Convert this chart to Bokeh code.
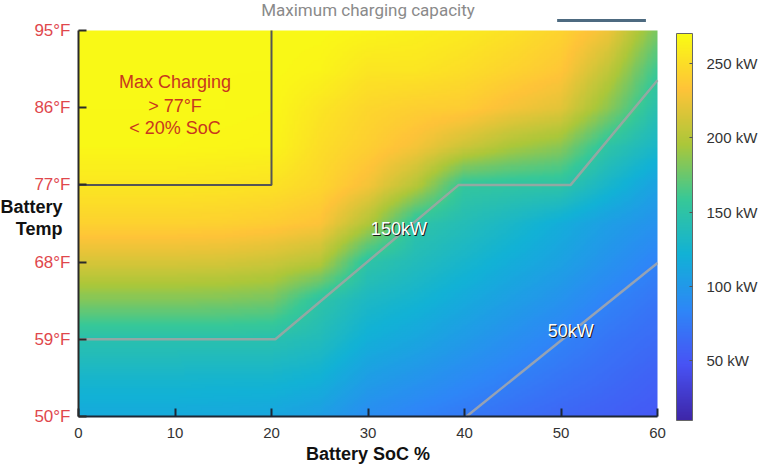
import numpy as np
from bokeh.plotting import figure
from bokeh.models import (LinearColorMapper, ColorBar, Range1d, FixedTicker, Label,
                          PrintfTickFormatter)
from bokeh.embed import file_html
from bokeh.resources import INLINE

# ---------------- data ----------------
soc_pct = [0, 5, 10, 15, 20, 25, 30, 35, 40, 45, 50, 55, 60]
temp_f = [50, 54.5, 59, 63.5, 68, 72.5, 77, 81.5, 86, 90.5, 95]
# charging power (kW), one row per temperature (bottom -> top), one column per SoC
power_kw = [
    [115, 115, 115, 114, 112, 105,  90,  82,  75,  68,  62,  57,  52],
    [128, 128, 128, 127, 127, 122, 105,  97,  88,  80,  72,  65,  58],
    [146, 146, 146, 146, 145, 138, 120, 112, 102,  92,  82,  72,  65],
    [182, 182, 182, 181, 178, 150, 132, 125, 115, 105,  95,  82,  72],
    [215, 215, 215, 214, 210, 200, 150, 138, 128, 118, 108,  95,  82],
    [242, 242, 242, 241, 238, 232, 198, 150, 140, 130, 118, 105,  95],
    [256, 256, 256, 255, 253, 245, 228, 200, 155, 152, 150, 128, 108],
    [267, 267, 267, 266, 265, 250, 240, 228, 210, 195, 185, 150, 130],
    [268, 268, 268, 268, 267, 255, 245, 240, 238, 228, 220, 185, 145],
    [268, 268, 268, 268, 268, 265, 255, 255, 250, 243, 235, 205, 160],
    [268, 268, 268, 268, 268, 268, 265, 262, 258, 252, 243, 225, 180],
]

contour150_soc = [0, 20.4, 39.4, 51.0, 60]
contour150_temp = [59, 59, 77, 77, 89.2]
contour50_soc = [40.2, 60]
contour50_temp = [50, 67.9]

box_soc = [0, 20, 20]
box_temp = [77, 77, 95]

temp_ticks = [50, 59, 68, 77, 86, 95]
temp_labels = ["50°F", "59°F", "68°F", "77°F", "86°F", "95°F"]
soc_ticks = [0, 10, 20, 30, 40, 50, 60]
kw_ticks = [50, 100, 150, 200, 250]
kw_low, kw_high = 10, 270

title_text = "Maximum charging capacity"
xlabel_text = "Battery SoC %"
ylabel_lines = ["Battery", "Temp"]
ylabel_temp = [74.4, 71.9]
box_note = ["Max Charging", "> 77°F", "< 20% SoC"]
box_note_temp = [88.94, 86.14, 83.58]
contour_labels = ["150kW", "50kW"]
contour_label_soc = [33.2, 51.0]
contour_label_temp = [71.9, 60.0]
stroke_soc = [49.6, 58.8]
stroke_temp = [96.17, 96.17]

# parula-like palette (8 stops)
stops = [(0.2422, 0.1504, 0.6603), (0.2810, 0.3228, 0.9579), (0.1786, 0.5289, 0.9682),
         (0.0689, 0.6948, 0.8394), (0.2161, 0.7843, 0.5923), (0.6720, 0.7793, 0.2227),
         (0.9970, 0.7659, 0.2199), (0.9769, 0.9839, 0.0805)]
sp = np.linspace(0, 1, len(stops))
t = np.linspace(0, 1, 256)
cols = np.array(stops)
palette = ["#%02x%02x%02x" % tuple(int(round(255 * np.interp(tt, sp, cols[:, k]))) for k in range(3)) for tt in t]

# smooth (interpolated-shading) rendering of the read grid
grid = np.array(power_kw, dtype=float)
xf = np.linspace(soc_pct[0], soc_pct[-1], 241)
yf = np.linspace(temp_f[0], temp_f[-1], 181)
tmp = np.array([np.interp(xf, soc_pct, row) for row in grid])
img = np.array([np.interp(yf, temp_f, tmp[:, j]) for j in range(tmp.shape[1])]).T

FONT = "Liberation Sans"

# the frame covers the caption areas too; axes are fixed at SoC 0 and 50°F
PX_PER_SOC = 579 / 60.0
PX_PER_F = 386 / 45.0
FRAME_W = 670
x0 = -78 / PX_PER_SOC
x1 = 60 + (FRAME_W - 657) / PX_PER_SOC
y0 = 50 - 55 / PX_PER_F
y1 = 95 + 30 / PX_PER_F

p = figure(frame_width=FRAME_W, frame_height=471, x_range=Range1d(x0, x1), y_range=Range1d(y0, y1),
           output_backend="svg", toolbar_location=None,
           min_border_left=0, min_border_top=0, min_border_bottom=0, min_border_right=0)
p.outline_line_color = None
p.grid.visible = False

mapper = LinearColorMapper(palette=palette, low=kw_low, high=kw_high)
p.image(image=[img], x=0, y=50, dw=60, dh=45, color_mapper=mapper)

# contour lines
p.line(contour150_soc, contour150_temp, line_color="#a3a3a3", line_width=2.5, line_alpha=0.85)
p.line(contour50_soc, contour50_temp, line_color="#a8a8a8", line_width=2.5, line_alpha=0.85)
# box
p.line(box_soc, box_temp, line_color="#555555", line_width=2)
# short dark stroke above the top right
p.line(stroke_soc, stroke_temp, line_color="#4d6a80", line_width=3)

# axes
xa = p.xaxis[0]
ya = p.yaxis[0]
xa.bounds = (0, 60)
ya.bounds = (50, 95)
xa.fixed_location = 50
ya.fixed_location = 0
xa.ticker = FixedTicker(ticks=soc_ticks)
ya.ticker = FixedTicker(ticks=temp_ticks)
ya.major_label_overrides = {tk: lb for tk, lb in zip(temp_ticks, temp_labels)}
for ax in (xa, ya):
    ax.major_tick_in = 8
    ax.major_tick_out = 0
    ax.minor_tick_line_color = None
    ax.axis_line_width = 2
    ax.major_tick_line_width = 2
    ax.major_label_text_font = FONT
ya.axis_line_color = "#2a2a2a"
ya.major_tick_line_color = "#2a2a2a"
ya.major_label_text_color = "#e0474c"
ya.major_label_text_font_size = "17px"
ya.major_label_standoff = 8
xa.axis_line_color = "#1d2735"
xa.major_tick_line_color = "#1d2735"
xa.major_label_text_color = "#333333"
xa.major_label_text_font_size = "15px"
xa.major_label_standoff = 11

# colour bar
cb = ColorBar(color_mapper=mapper, ticker=FixedTicker(ticks=kw_ticks),
              formatter=PrintfTickFormatter(format="%d kW"),
              width=16, height=387, padding=0, margin=0, location=(676 - FRAME_W, 51),
              label_standoff=14, major_tick_in=3, major_tick_out=0,
              major_tick_line_color="#555555", bar_line_color="#666666",
              major_label_text_font=FONT, major_label_text_font_size="15px",
              major_label_text_color="#333333", background_fill_color=None,
              border_line_color=None)
p.add_layout(cb, "right")

# title
p.add_layout(Label(x=30, y=95 + 20.5 / PX_PER_F, text=title_text, text_font="Roboto",
                   text_font_size="17px", text_color="#8a8a8a", text_align="center",
                   text_baseline="middle"))
# axis captions
p.add_layout(Label(x=30, y=50 - 37 / PX_PER_F, text=xlabel_text, text_font=FONT,
                   text_color="#111111", text_font_size="18px", text_font_style="bold",
                   text_align="center", text_baseline="middle"))
for s, y in zip(ylabel_lines, ylabel_temp):
    p.add_layout(Label(x=-16 / PX_PER_SOC, y=y, text=s, text_font=FONT, text_color="#111111",
                       text_font_size="18px", text_font_style="bold", text_align="right",
                       text_baseline="middle"))

# texts inside the heat map
for s, y in zip(box_note, box_note_temp):
    p.add_layout(Label(x=10, y=y, text=s, text_font=FONT, text_color="#c8371e",
                       text_font_size="18px", text_align="center", text_baseline="middle"))

for s, x, y in zip(contour_labels, contour_label_soc, contour_label_temp):
    p.add_layout(Label(x=x, y=y, text=s, text_font=FONT, text_color="#1a1a1a",
                       text_font_size="18px", text_align="center", text_baseline="middle",
                       x_offset=1, y_offset=-1.3))
    p.add_layout(Label(x=x, y=y, text=s, text_font=FONT, text_color="#ffffff",
                       text_font_size="18px", text_align="center", text_baseline="middle"))

open("out.html", "w").write(file_html(p, INLINE))
